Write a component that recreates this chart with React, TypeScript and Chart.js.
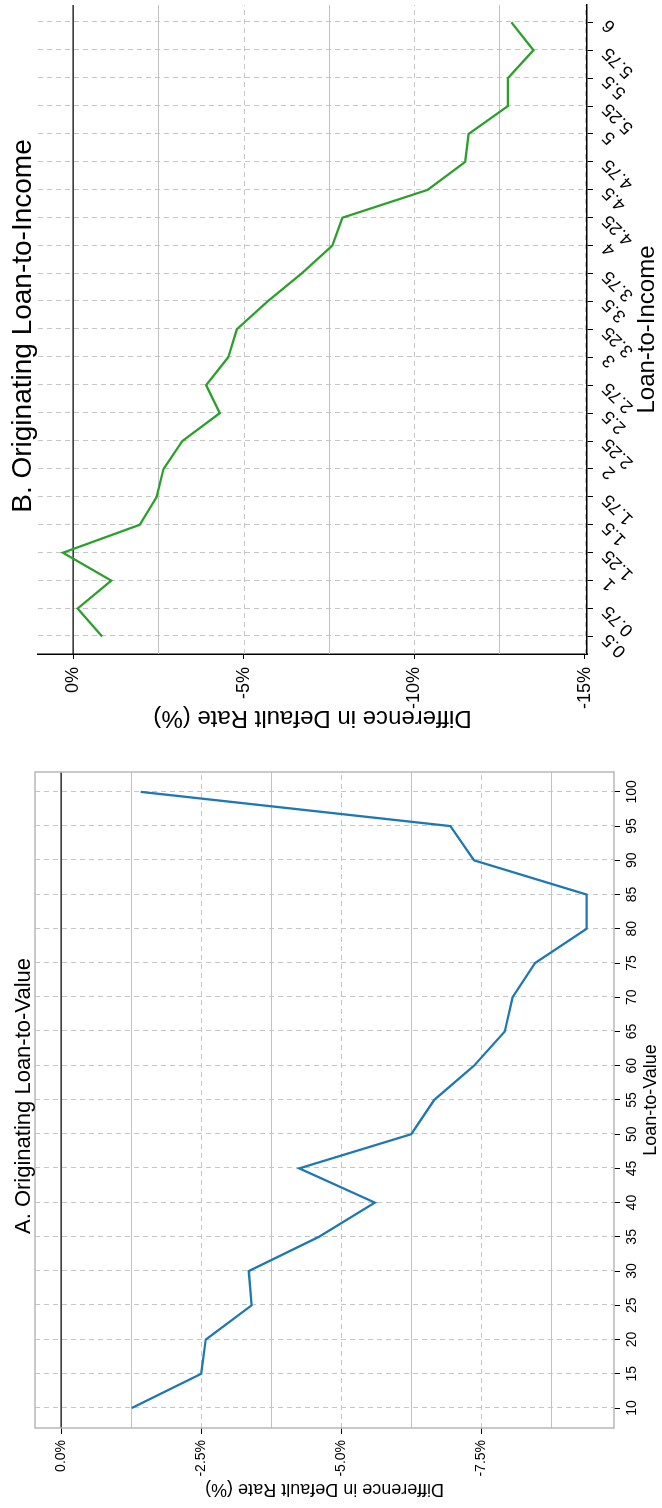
import { useEffect, useRef } from "react";
import { Chart, registerables } from "chart.js";

Chart.register(...registerables);

const FONT = '"Liberation Sans", Arial, Helvetica, sans-serif';

// Panel A: Originating Loan-to-Value
const ltvCategories = [10, 15, 20, 25, 30, 35, 40, 45, 50, 55, 60, 65, 70, 75, 80, 85, 90, 95, 100];
const ltvDiff = [-1.26, -2.5, -2.58, -3.4, -3.35, -4.6, -5.6, -4.25, -6.25, -6.66, -7.37, -7.92, -8.06, -8.46, -9.38, -9.38, -7.37, -6.95, -1.42];
const ltvValueTicks = [0, -2.5, -5, -7.5];
const ltvMidLines = [-1.25, -3.75, -6.25, -8.75];

// Panel B: Originating Loan-to-Income
const ltiCategories = [0.5, 0.75, 1, 1.25, 1.5, 1.75, 2, 2.25, 2.5, 2.75, 3, 3.25, 3.5, 3.75, 4, 4.25, 4.5, 4.75, 5, 5.25, 5.5, 5.75, 6];
const ltiDiff = [-0.85, -0.13, -1.12, 0.3, -1.95, -2.45, -2.65, -3.2, -4.3, -3.9, -4.55, -4.8, -5.7, -6.7, -7.6, -7.9, -10.4, -11.5, -11.6, -12.75, -12.75, -13.5, -12.85];
const ltiValueTicks = [0, -5, -10, -15];
const ltiMidLines = [-2.5, -7.5, -12.5];

const gridPlugin = {
  id: "customGrid",
  beforeDatasetsDraw(chart: any, _args: any, opts: any) {
    const { ctx, chartArea: a, scales } = chart;
    const x = scales.x;
    const y = scales.y;
    ctx.save();
    ctx.beginPath();
    ctx.rect(a.left, a.top, a.right - a.left, a.bottom - a.top);
    ctx.clip();
    const line = (x1: number, y1: number, x2: number, y2: number) => {
      ctx.beginPath();
      ctx.moveTo(x1, y1);
      ctx.lineTo(x2, y2);
      ctx.stroke();
    };
    ctx.lineWidth = 1;
    ctx.strokeStyle = "#c6c6c6";
    ctx.setLineDash([5, 4]);
    for (const c of opts.categories) {
      const px = Math.round(x.getPixelForValue(c)) + 0.5;
      line(px, a.top, px, a.bottom);
    }
    for (const v of opts.major) {
      if (v === 0) continue;
      const py = Math.round(y.getPixelForValue(v)) + 0.5;
      line(a.left, py, a.right, py);
    }
    ctx.setLineDash([]);
    ctx.strokeStyle = "#c2c2c2";
    for (const v of opts.mid) {
      const py = Math.round(y.getPixelForValue(v)) + 0.5;
      line(a.left, py, a.right, py);
    }
    ctx.strokeStyle = "#000";
    ctx.lineWidth = 1.3;
    const pz = y.getPixelForValue(0);
    line(a.left, pz, a.right, pz);
    ctx.restore();
    if (opts.frame) {
      ctx.save();
      ctx.strokeStyle = opts.frame;
      ctx.lineWidth = 1.5;
      ctx.strokeRect(a.left, a.top, a.right - a.left, a.bottom - a.top);
      ctx.restore();
    }
  },
};

const titlePlugin = {
  id: "panelTitle",
  afterDraw(chart: any, _args: any, opts: any) {
    const { ctx } = chart;
    ctx.save();
    ctx.font = `${opts.size}px ${FONT}`;
    ctx.fillStyle = "#000";
    ctx.textAlign = "center";
    ctx.textBaseline = "middle";
    ctx.fillText(opts.text, opts.x, opts.y);
    ctx.restore();
  },
};

type PanelSpec = {
  cats: number[];
  vals: number[];
  major: number[];
  mid: number[];
  color: string;
  xMin: number;
  xMax: number;
  yMin: number;
  yMax: number;
  padding: { top: number; right: number; bottom: number; left: number };
  yWidth: number;
  xHeight: number;
  tickSize: number;
  axisTitleSize: number;
  title: string;
  titleSize: number;
  titleX: number;
  titleY: number;
  xTitle: string;
  yTitle: string;
  yTitlePad: number;
  yTickFmt: (v: number) => string;
  xRotation: number;
  xTickLen: number;
  xTickPad: number;
  yTickLen: number;
  yTickPad: number;
  frame: string | null;
  axisColor: string;
  axisWidth: number;
  lineWidth: number;
};

function buildConfig(p: PanelSpec): any {
  return {
    type: "line",
    data: {
      datasets: [
        {
          data: p.cats.map((c, i) => ({ x: c, y: p.vals[i] })),
          borderColor: p.color,
          backgroundColor: p.color,
          borderWidth: p.lineWidth,
          pointRadius: 0,
          tension: 0,
          fill: false,
        },
      ],
    },
    options: {
      responsive: false,
      maintainAspectRatio: false,
      animation: false,
      devicePixelRatio: 1,
      layout: { padding: p.padding },
      plugins: {
        legend: { display: false },
        tooltip: { enabled: false },
        title: { display: false },
        customGrid: { categories: p.cats, major: p.major, mid: p.mid, frame: p.frame },
        panelTitle: { text: p.title, size: p.titleSize, x: p.titleX, y: p.titleY },
      },
      scales: {
        x: {
          type: "linear",
          min: p.xMin,
          max: p.xMax,
          afterBuildTicks: (s: any) => {
            s.ticks = p.cats.map((v) => ({ value: v }));
          },
          afterFit: (s: any) => {
            s.height = p.xHeight;
          },
          ticks: {
            autoSkip: false,
            minRotation: p.xRotation,
            maxRotation: p.xRotation,
            color: "#000",
            font: { family: FONT, size: p.tickSize },
            padding: p.xTickPad,
            callback: (v: any) => String(Number(v)),
          },
          grid: {
            display: true,
            drawOnChartArea: false,
            drawTicks: true,
            tickLength: p.xTickLen,
            tickColor: "#000",
            tickWidth: 1,
          },
          border: { display: !p.frame, color: p.axisColor, width: p.axisWidth },
          title: {
            display: true,
            text: p.xTitle,
            color: "#000",
            font: { family: FONT, size: p.axisTitleSize },
            padding: { top: 0, bottom: 0 },
          },
        },
        y: {
          type: "linear",
          min: p.yMin,
          max: p.yMax,
          afterBuildTicks: (s: any) => {
            s.ticks = p.major.map((v) => ({ value: v }));
          },
          afterFit: (s: any) => {
            s.width = p.yWidth;
          },
          ticks: {
            autoSkip: false,
            color: "#000",
            font: { family: FONT, size: p.tickSize },
            padding: p.yTickPad,
            callback: (v: any) => p.yTickFmt(Number(v)),
          },
          grid: {
            display: true,
            drawOnChartArea: false,
            drawTicks: true,
            tickLength: p.yTickLen,
            tickColor: "#000",
            tickWidth: 1,
          },
          border: { display: !p.frame, color: p.axisColor, width: p.axisWidth },
          title: {
            display: true,
            text: p.yTitle,
            color: "#000",
            font: { family: FONT, size: p.axisTitleSize },
            padding: { top: p.yTitlePad, bottom: 0 },
          },
        },
      },
    },
    plugins: [gridPlugin, titlePlugin],
  };
}

const panelA: PanelSpec = {
  cats: ltvCategories,
  vals: ltvDiff,
  major: ltvValueTicks,
  mid: ltvMidLines,
  color: "#1f77b4",
  xMin: 7.08,
  xMax: 102.9,
  yMin: -9.87,
  yMax: 0.468,
  padding: { top: 35, right: 24, bottom: 0, left: 0 },
  yWidth: 80,
  xHeight: 48,
  tickSize: 14,
  axisTitleSize: 18,
  title: "A. Originating Loan-to-Value",
  titleSize: 22,
  titleX: 412,
  titleY: 24,
  xTitle: "Loan-to-Value",
  yTitle: "Difference in Default Rate (%)",
  yTitlePad: 8,
  yTickFmt: (v) => `${v.toFixed(1)}%`,
  xRotation: 0,
  xTickLen: 6,
  xTickPad: 4,
  yTickLen: 6,
  yTickPad: 6,
  frame: "#b8b8b8",
  axisColor: "#b8b8b8",
  axisWidth: 1.5,
  lineWidth: 2.3,
};

const panelB: PanelSpec = {
  cats: ltiCategories,
  vals: ltiDiff,
  major: ltiValueTicks,
  mid: ltiMidLines,
  color: "#2ca02c",
  xMin: 0.343,
  xMax: 6.155,
  yMin: -15.07,
  yMax: 1.03,
  padding: { top: 38, right: 5, bottom: 0, left: 0 },
  yWidth: 94,
  xHeight: 75,
  tickSize: 18,
  axisTitleSize: 24,
  title: "B. Originating Loan-to-Income",
  titleSize: 28,
  titleX: 422,
  titleY: 23.5,
  xTitle: "Loan-to-Income",
  yTitle: "Difference in Default Rate (%)",
  yTitlePad: 15.6,
  yTickFmt: (v) => `${Math.round(v)}%`,
  xRotation: 45,
  xTickLen: 6,
  xTickPad: 5,
  yTickLen: 5,
  yTickPad: 8,
  frame: null,
  axisColor: "#000",
  axisWidth: 1.5,
  lineWidth: 2.3,
};

const TOTAL_W = 1508;
const TOTAL_H = 662;
const SPLIT = 760;

export default function App() {
  const refA = useRef<HTMLCanvasElement | null>(null);
  const refB = useRef<HTMLCanvasElement | null>(null);

  useEffect(() => {
    const charts: Chart[] = [];
    if (refA.current) charts.push(new Chart(refA.current, buildConfig(panelA)));
    if (refB.current) charts.push(new Chart(refB.current, buildConfig(panelB)));
    return () => {
      charts.forEach((c) => c.destroy());
    };
  }, []);

  return (
    <div
      style={{
        position: "absolute",
        left: 0,
        top: 0,
        width: TOTAL_W,
        height: TOTAL_H,
        background: "#fff",
        transformOrigin: "0 0",
        transform: `translateY(${TOTAL_W}px) rotate(-90deg)`,
      }}
    >
      <canvas
        ref={refA}
        width={SPLIT}
        height={TOTAL_H}
        style={{ position: "absolute", left: 0, top: 0, width: SPLIT, height: TOTAL_H }}
      />
      <canvas
        ref={refB}
        width={TOTAL_W - SPLIT}
        height={TOTAL_H}
        style={{ position: "absolute", left: SPLIT, top: 0, width: TOTAL_W - SPLIT, height: TOTAL_H }}
      />
    </div>
  );
}
